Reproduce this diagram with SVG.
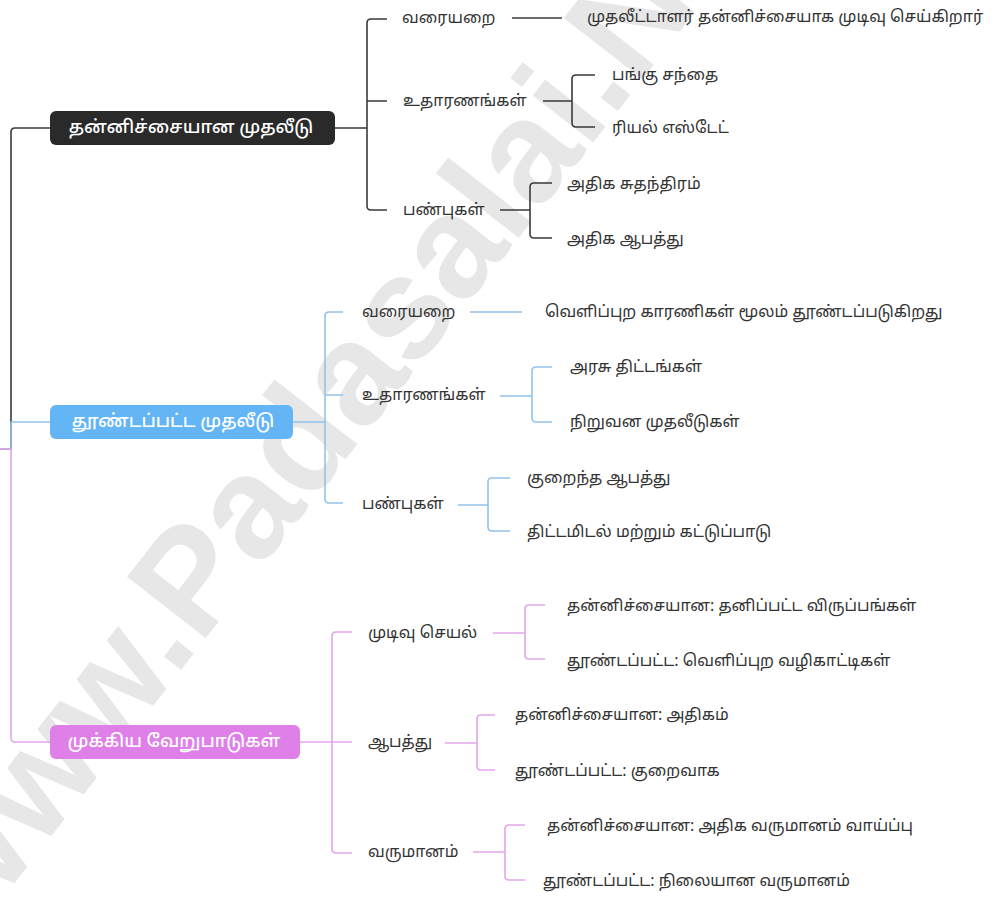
<svg xmlns="http://www.w3.org/2000/svg" width="994" height="900" viewBox="0 0 994 900">
<style>
.t{font-family:"Noto Sans Tamil","Noto Sans","Lato",sans-serif;font-size:16px;fill:#333;dominant-baseline:central}
.n{font-family:"Noto Sans Tamil","Noto Sans","Lato",sans-serif;font-size:18px;fill:#fff;dominant-baseline:central;text-anchor:middle;font-weight:500}
.c{fill:none;stroke-width:1.6;stroke-linejoin:round}
.k{stroke:#3a3a3a}.b{stroke:#93c2ea}.p{stroke:#e2a5ea}
.wm{font-family:"Liberation Sans",Arial,sans-serif;font-size:145px;font-weight:bold;fill:#e2e2e2;opacity:0.8}
</style>
<rect width="994" height="900" fill="#fff"/>
<text class="wm" transform="translate(-30 940) rotate(-52)">www.Padasalai.Net</text>
<g id="connectors">
<path class="c k" d="M0 449 H11 V132 Q11 128 15 128 H50"/>
<path class="c b" d="M0 449 H11 V422 H50"/>
<path class="c p" d="M0 449 H11 V738 Q11 742 15 742 H50"/>
<path class="c k" d="M335 128 H367 M387 19 H371 Q367 19 367 23 V206 Q367 210 371 210 H387 M367 101 H387"/>
<path class="c k" d="M512 18 H562"/>
<path class="c k" d="M543 101 H572 M595 75 H576 Q572 75 572 79 V123 Q572 127 576 127 H595"/>
<path class="c k" d="M500 210 H530 M552 183 H534 Q530 183 530 187 V234 Q530 238 534 238 H552"/>
<path class="c b" d="M293 422 H325 M343 312 H329 Q325 312 325 316 V499 Q325 503 329 503 H343 M325 395 H343"/>
<path class="c b" d="M470 312 H522"/>
<path class="c b" d="M500 396 H532 M552 367 H536 Q532 367 532 371 V418 Q532 422 536 422 H552"/>
<path class="c b" d="M458 505 H488 M510 478 H492 Q488 478 488 482 V527 Q488 531 492 531 H510"/>
<path class="c p" d="M300 742 H332 M352 632 H336 Q332 632 332 636 V849 Q332 853 336 853 H352 M332 742 H352"/>
<path class="c p" d="M493 633 H525 M545 605 H529 Q525 605 525 609 V655 Q525 659 529 659 H545"/>
<path class="c p" d="M445 743 H477 M495 715 H481 Q477 715 477 719 V766 Q477 770 481 770 H495"/>
<path class="c p" d="M473 852 H505 M525 825 H509 Q505 825 505 829 V876 Q505 880 509 880 H525"/>
</g>
<g id="n1"><rect x="50" y="111" width="285" height="34" rx="6" fill="#2a2a2a"/><text class="n" x="191" y="128">தன்னிச்சையான முதலீடு</text></g>
<g id="n1a"><text class="t" x="402" y="19">வரையறை</text></g>
<g id="n1a1"><text class="t" x="587" y="18">முதலீட்டாளர் தன்னிச்சையாக முடிவு செய்கிறார்</text></g>
<g id="n1b"><text class="t" x="403" y="102">உதாரணங்கள்</text></g>
<g id="n1b1"><text class="t" x="612" y="76">பங்கு சந்தை</text></g>
<g id="n1b2"><text class="t" x="612" y="129">ரியல் எஸ்டேட்</text></g>
<g id="n1c"><text class="t" x="403" y="211">பண்புகள்</text></g>
<g id="n1c1"><text class="t" x="567" y="185">அதிக சுதந்திரம்</text></g>
<g id="n1c2"><text class="t" x="567" y="240">அதிக ஆபத்து</text></g>
<g id="n2"><rect x="50" y="405" width="243" height="34" rx="6" fill="#64b5f6"/><text class="n" x="173" y="422">தூண்டப்பட்ட முதலீடு</text></g>
<g id="n2a"><text class="t" x="362" y="313">வரையறை</text></g>
<g id="n2a1"><text class="t" x="545" y="313">வெளிப்புற காரணிகள் மூலம் தூண்டப்படுகிறது</text></g>
<g id="n2b"><text class="t" x="362" y="396">உதாரணங்கள்</text></g>
<g id="n2b1"><text class="t" x="570" y="368">அரசு திட்டங்கள்</text></g>
<g id="n2b2"><text class="t" x="570" y="423">நிறுவன முதலீடுகள்</text></g>
<g id="n2c"><text class="t" x="362" y="505">பண்புகள்</text></g>
<g id="n2c1"><text class="t" x="527" y="479">குறைந்த ஆபத்து</text></g>
<g id="n2c2"><text class="t" x="527" y="533">திட்டமிடல் மற்றும் கட்டுப்பாடு</text></g>
<g id="n3"><rect x="50" y="725" width="250" height="34" rx="6" fill="#df80e9"/><text class="n" x="174" y="742">முக்கிய வேறுபாடுகள்</text></g>
<g id="n3a"><text class="t" x="368" y="634">முடிவு செயல்</text></g>
<g id="n3a1"><text class="t" x="567" y="607">தன்னிச்சையான: தனிப்பட்ட விருப்பங்கள்</text></g>
<g id="n3a2"><text class="t" x="567" y="662">தூண்டப்பட்ட: வெளிப்புற வழிகாட்டிகள்</text></g>
<g id="n3b"><text class="t" x="368" y="743">ஆபத்து</text></g>
<g id="n3b1"><text class="t" x="515" y="716">தன்னிச்சையான: அதிகம்</text></g>
<g id="n3b2"><text class="t" x="515" y="772">தூண்டப்பட்ட: குறைவாக</text></g>
<g id="n3c"><text class="t" x="368" y="853">வருமானம்</text></g>
<g id="n3c1"><text class="t" x="547" y="827">தன்னிச்சையான: அதிக வருமானம் வாய்ப்பு</text></g>
<g id="n3c2"><text class="t" x="543" y="882">தூண்டப்பட்ட: நிலையான வருமானம்</text></g>
</svg>
